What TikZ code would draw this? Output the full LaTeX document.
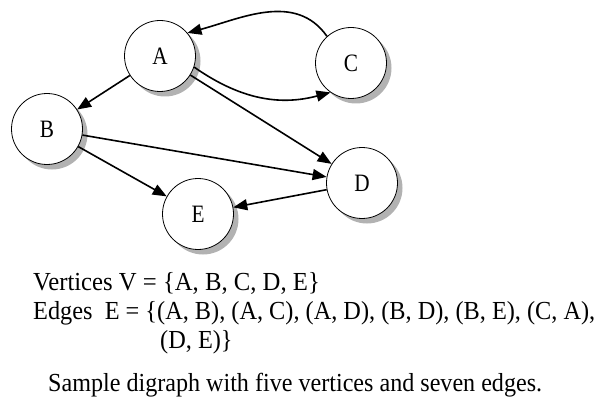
\documentclass[tikz,border=0pt]{standalone}
\usepackage{fontspec}
\setmainfont{Liberation Serif}
\usetikzlibrary{arrows.meta,shadows,positioning}

\begin{document}
\begin{tikzpicture}[x=1pt,y=1pt]
            \tikzstyle{vertex}=[circle,draw,thick,fill=white,minimum size=71pt,inner sep=0pt,font=\fontsize{25}{29}\selectfont,
                drop shadow={shadow xshift=5pt,shadow yshift=-5pt,fill=gray!60,opacity=1}]
            \tikzstyle{label}=[anchor=base west,inner sep=0pt,font=\fontsize{26}{30}\selectfont]

            \tikzstyle{every edge}=[draw,line width=1.6pt,-{Triangle[length=14pt,width=11pt]}]

            \useasboundingbox (0,0) rectangle (597,-401);

            \node[vertex] (A) at (160,-56)  {\scalebox{0.85}[1]{A}};
            \node[vertex] (C) at (351,-63)  {\scalebox{0.85}[1]{C}};
            \node[vertex] (B) at (47,-129)  {\scalebox{0.85}[1]{B}};
            \node[vertex] (D) at (362,-183) {\scalebox{0.85}[1]{D}};
            \node[vertex] (E) at (198,-214) {\scalebox{0.85}[1]{E}};

            \path (A) edge (B);
            \path (A.-18) edge[out=-35,in=195] (C.235);
            \path (A) edge (D);
            \path (B) edge (D);
            \path (B) edge (E);
            \path (C.132) edge[out=125,in=15] (A.40);
            \path (D) edge (E);

            % vertex and edge sets
            \node[label] (vset) at (33,-290)  {\scalebox{0.95}[1]{Vertices V = \{A, B, C, D, E\}}};
            \node[label] (eset) at (33,-319)  {\scalebox{0.935}[1]{Edges\ \ E = \{(A, B), (A, C), (A, D), (B, D), (B, E), (C, A),}};
            \node[label] (emore) at (160,-348) {\scalebox{0.935}[1]{(D, E)\}}};
            \node[label] (cap) at (48,-391)   {\scalebox{0.927}[1]{Sample digraph with five vertices and seven edges.}};
\end{tikzpicture}
\end{document}
